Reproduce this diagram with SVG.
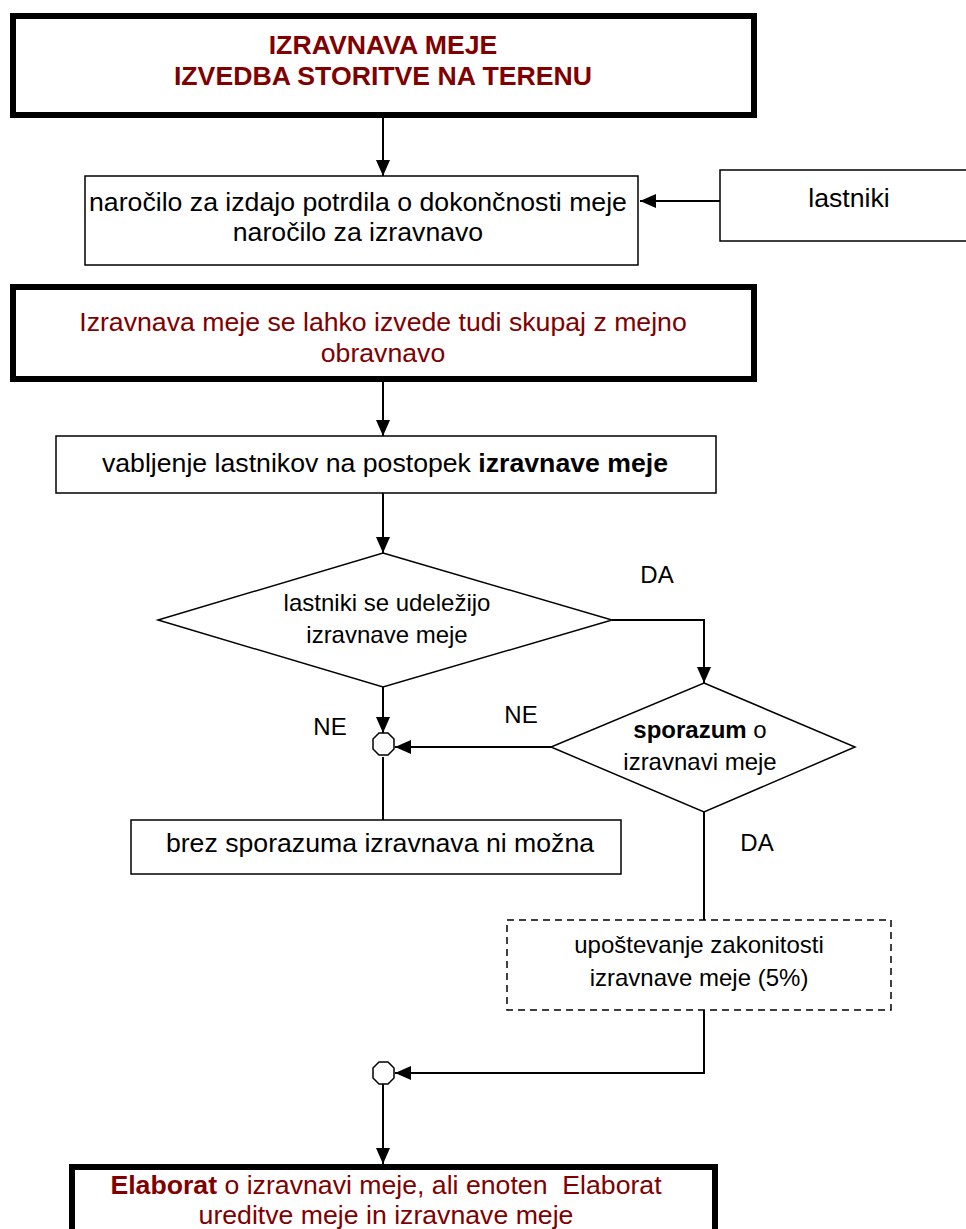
<svg xmlns="http://www.w3.org/2000/svg" width="966" height="1229" viewBox="0 0 966 1229">
  <style>
    text { font-family: "Liberation Sans", Arial, sans-serif; text-anchor: middle; fill: #000; }
    .t20 { font-size: 26.67px; }
    .t18 { font-size: 24px; }
    .red { fill: #800000; }
    .b { font-weight: bold; }
    .thick { fill: #fff; stroke: #000; stroke-width: 6; }
    .thin { fill: #fff; stroke: #000; stroke-width: 1.5; }
    .dash { fill: #fff; stroke: #000; stroke-width: 1.5; stroke-dasharray: 7 5; }
    .conn { fill: none; stroke: #000; stroke-width: 2; }
  </style>
  <defs>
    <marker id="arrow" markerUnits="userSpaceOnUse" markerWidth="16" markerHeight="14" viewBox="0 0 16 14" refX="16" refY="7" orient="auto">
      <path d="M0,0 L16,7 L0,14 Z" fill="#000"/>
    </marker>
  </defs>

  <rect width="966" height="1229" fill="#fff"/>

  <!-- connectors -->
  <g id="connectors">
    <line class="conn" x1="383" y1="118" x2="383" y2="176" marker-end="url(#arrow)"/>
    <line class="conn" x1="720" y1="201" x2="640" y2="201" marker-end="url(#arrow)"/>
    <line class="conn" x1="383" y1="382" x2="383" y2="436" marker-end="url(#arrow)"/>
    <line class="conn" x1="383" y1="493" x2="383" y2="553" marker-end="url(#arrow)"/>
    <polyline class="conn" points="612,620 704,620 704,683" marker-end="url(#arrow)"/>
    <line class="conn" x1="383" y1="687" x2="383" y2="733" marker-end="url(#arrow)"/>
    <line class="conn" x1="551" y1="747" x2="395" y2="747" marker-end="url(#arrow)"/>
    <line class="conn" x1="383" y1="757" x2="383" y2="820"/>
    <line class="conn" x1="704" y1="812" x2="704" y2="920"/>
    <polyline class="conn" points="704,1010 704,1073 395,1073" marker-end="url(#arrow)"/>
    <line class="conn" x1="383" y1="1084" x2="383" y2="1164" marker-end="url(#arrow)"/>
    <text class="t18" x="657" y="583">DA</text>
    <text class="t18" x="330" y="735">NE</text>
    <text class="t18" x="521" y="723">NE</text>
    <text class="t18" x="757" y="851">DA</text>
  </g>

  <g id="title">
    <rect class="thick" x="13" y="16" width="741" height="99"/>
    <text class="t20 red b" x="383" y="54">IZRAVNAVA MEJE</text>
    <text class="t20 red b" x="383" y="85">IZVEDBA STORITVE NA TERENU</text>
  </g>

  <g id="narocilo">
    <rect class="thin" x="85" y="176" width="553" height="89"/>
    <text class="t20" x="358" y="211">naročilo za izdajo potrdila o dokončnosti meje</text>
    <text class="t20" x="358" y="241">naročilo za izravnavo</text>
  </g>

  <g id="lastniki">
    <rect class="thin" x="720" y="170" width="260" height="71"/>
    <text class="t20" x="849" y="207">lastniki</text>
  </g>

  <g id="opomba">
    <rect class="thick" x="13" y="287" width="741" height="92"/>
    <text class="t20 red" x="383" y="331">Izravnava meje se lahko izvede tudi skupaj z mejno</text>
    <text class="t20 red" x="383" y="362">obravnavo</text>
  </g>

  <g id="vabljenje">
    <rect class="thin" x="56" y="436" width="660" height="57"/>
    <text class="t20" x="385" y="472">vabljenje lastnikov na postopek <tspan class="b">izravnave meje</tspan></text>
  </g>

  <g id="udelezba">
    <polygon class="thin" points="383,553 612,620 383,687 158,620"/>
    <text class="t18" x="387" y="611">lastniki se udeležijo</text>
    <text class="t18" x="387" y="643">izravnave meje</text>
  </g>

  <g id="sporazum">
    <polygon class="thin" points="704,683 855,747 704,812 551,747"/>
    <text class="t18" x="700" y="738"><tspan class="b">sporazum</tspan> o</text>
    <text class="t18" x="700" y="770">izravnavi meje</text>
  </g>

  <g id="stik1">
    <polygon class="thin" points="379,733 388,733 394,739 394,749 388,755 379,755 373,749 373,739"/>
  </g>

  <g id="brez">
    <rect class="thin" x="131" y="820" width="490" height="54"/>
    <text class="t20" x="380" y="852">brez sporazuma izravnava ni možna</text>
  </g>

  <g id="zakonitost">
    <rect class="dash" x="507" y="920" width="384" height="90"/>
    <text class="t18" x="699" y="953">upoštevanje zakonitosti</text>
    <text class="t18" x="699" y="986">izravnave meje (5%)</text>
  </g>

  <g id="stik2">
    <polygon class="thin" points="379,1062 388,1062 394,1068 394,1078 388,1084 379,1084 373,1078 373,1068"/>
  </g>

  <g id="elaborat">
    <rect class="thick" x="72" y="1167" width="643" height="100"/>
    <text class="t20 red" x="386" y="1194" style="white-space:pre"><tspan class="b">Elaborat</tspan> o izravnavi meje, ali enoten  Elaborat</text>
    <text class="t20 red" x="386" y="1224">ureditve meje in izravnave meje</text>
  </g>
</svg>
